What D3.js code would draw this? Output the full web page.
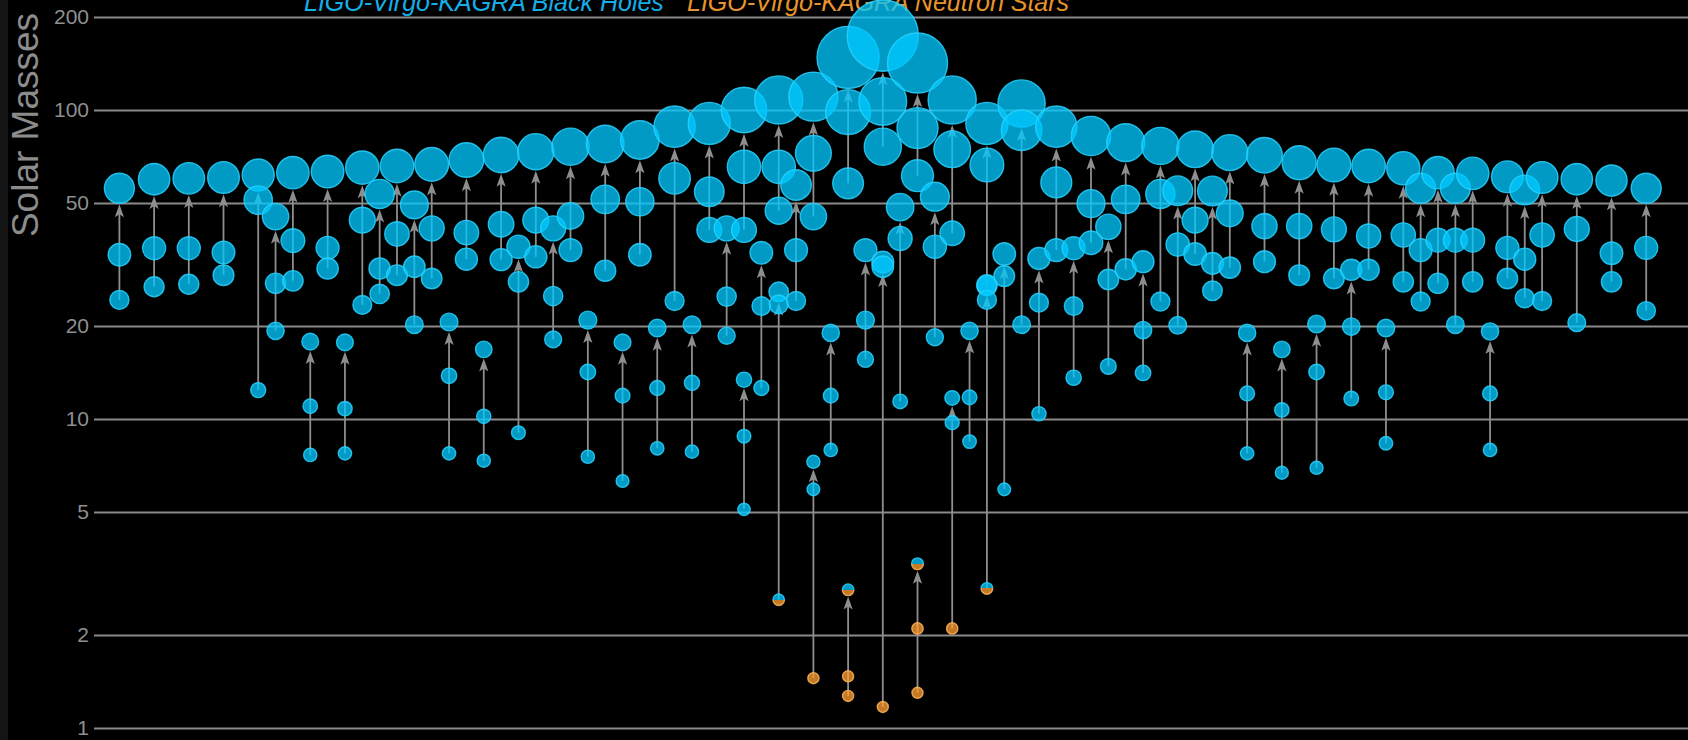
<!DOCTYPE html>
<html>
<head>
<meta charset="utf-8">
<script src="https://cdn.jsdelivr.net/npm/d3@7/dist/d3.min.js"></script>
<style>
  html, body { margin: 0; padding: 0; background: #000; }
  svg { display: block; }
</style>
</head>
<body>
<svg id="chart" width="1688" height="740"></svg>
<script>
// ---------- DATA ----------
// x slot of each merger event (evenly spaced columns)
const slots = [0,2,4,6,8,9,10,11,12,13,14,15,16,17,18,19,20,21,22,23,24,25,26,27,28,29,30,31,32,33,34,35,
  36,36,37,38,38,39,40,40,41,42,42,43,44,44,45,46,46,47,48,48,49,50,50,51,
  52,53,54,55,56,57,58,59,60,61,62,63,64,65,66,67,68,69,70,71,72,73,74,75,76,77,78,79,80,81,82,84,86,88];
// final (remnant) mass, solar masses
const finalMass = [55.8,59.7,60.1,60.5,61.6,45.2,62.7,17.8,63.2,17.7,65.1,53.5,65.9,49.3,66.7,20.6,68.9,16.8,71.5,36.1,
  73.3,41.4,76.1,20.9,77.6,17.7,80.0,19.7,88.3,20.2,90.5,41.4,100,13.4,34.5,107.8,25.8,57.2,110.5,7.27,
  19.0,148,2.8,35.2,174,32.2,48.5,142,3.4,52.4,107.8,11.7,19.3,90.5,27.2,34.2,105,33.1,88.3,35.7,
  82.4,41.9,78.4,32.3,76.5,54.8,74.6,54.7,72.8,19.0,71.4,16.8,67.5,20.3,66.4,30.4,65.9,19.7,64.8,55.8,
  62.7,55.8,62.4,19.2,60.8,55.1,60.5,59.7,59.1,55.8];
// heavier component mass
const mass1 = [34.0,35.7,35.7,34.6,51.1,27.5,37.8,11.0,35.8,10.8,44.0,30.7,39.7,31.1,41.4,13.8,40.1,10.2,42.7,27.8,
  44.0,25.0,45.4,14.2,51.4,11.9,50.5,12.6,60.1,13.1,54.4,24.9,65.5,8.8,23.2,65.5,23.5,35.2,72.4,5.92,
  11.9,98.5,1.47,20.9,106.6,31.1,38.4,87.4,2.1,36.1,74.6,9.73,11.75,66.4,24.3,29.0,86,23.8,58.3,23.2,
  49.8,28.3,51.4,19.4,53.5,36.7,44.0,31.9,46.3,12.1,42.1,10.7,42.1,14.2,41.1,19.9,39.1,12.2,39.4,35.2,
  37.9,37.9,37.9,12.1,35.8,32.9,39.4,41.2,34.4,35.8];
// lighter component mass
const mass2 = [24.3,26.8,27.3,29.2,12.4,19.3,28.0,7.65,30.7,7.74,23.4,25.4,29.2,20.2,28.5,7.74,32.9,7.33,32.8,9.03,
  33.5,18.1,35.2,7.55,30.2,6.3,34.0,8.04,24.1,7.84,40.9,18.6,40.9,5.1,12.6,47.2,2.6,24.1,45.2,1.45,
  7.94,57.9,1.27,15.6,76.1,1.17,11.4,61.3,1.3,18.4,39.9,2.1,8.45,27.0,2.83,5.92,20.2,10.4,35.2,13.6,
  37.2,14.8,30.5,14.1,24.0,20.1,34.2,26.0,30.9,7.74,32.3,6.7,29.2,6.95,28.5,11.65,30.4,8.35,27.8,24.0,
  27.5,20.2,27.8,7.94,28.5,24.6,24.1,20.5,27.8,22.4];
// objects that are not black holes (by event index): N = neutron star, G = uncertain (half/half)
const finalKind = {42: "G", 48: "G"};
const mass1Kind = {42: "N", 48: "N"};
const mass2Kind = {36: "G", 39: "N", 42: "N", 45: "N", 48: "N", 51: "N", 54: "G"};
const tickValues = [1, 2, 5, 10, 20, 50, 100, 200];
const legendLabels = ["LIGO-Virgo-KAGRA Black Holes", "LIGO-Virgo-KAGRA Neutron Stars"];
const axisTitle = "Solar Masses";

// ---------- DRAWING ----------
const W = 1688, H = 740;
const svg = d3.select("#chart");
const font = "'Helvetica Neue', Helvetica, Arial, 'Liberation Sans', sans-serif";

svg.append("rect").attr("width", W).attr("height", H).attr("fill", "#000");
svg.append("rect").attr("width", 8).attr("height", H).attr("fill", "#141414");

const defs = svg.append("defs");
const gFill = defs.append("linearGradient").attr("id", "gapFill")
  .attr("x1", 0).attr("y1", 0).attr("x2", 0).attr("y2", 1);
[[0, "rgb(0,200,255)"], [0.5, "rgb(0,200,255)"], [0.5, "rgb(255,158,50)"], [1, "rgb(255,158,50)"]]
  .forEach(([o, c]) => gFill.append("stop").attr("offset", o).attr("stop-color", c));
const gStroke = defs.append("linearGradient").attr("id", "gapStroke")
  .attr("x1", 0).attr("y1", 0).attr("x2", 0).attr("y2", 1);
[[0, "rgb(40,210,255)"], [0.5, "rgb(40,210,255)"], [0.5, "rgb(255,180,90)"], [1, "rgb(255,180,90)"]]
  .forEach(([o, c]) => gStroke.append("stop").attr("offset", o).attr("stop-color", c));

const x = d3.scaleLinear().domain([0, 88]).range([119.4, 1646.2]);
const y = d3.scaleLog().domain([1, 200]).range([728, 17]);
const r = d3.scaleLinear().domain([0, 100]).range([5.3, 22.7]);

// axis + gridlines
const axisX = 94;
const axis = d3.axisLeft(y)
  .tickValues(tickValues)
  .tickFormat(d3.format("d"))
  .tickSize(-(W - axisX))
  .tickPadding(5);
const gAxis = svg.append("g").attr("transform", `translate(${axisX},0)`).call(axis);
gAxis.select(".domain").remove();
gAxis.selectAll(".tick line").attr("stroke", "#8a8a8a").attr("stroke-width", 2);
gAxis.selectAll(".tick text").attr("fill", "#8f8f8f").attr("font-size", 21).attr("font-family", font);

// axis title
svg.append("text")
  .attr("transform", "translate(38,125) rotate(-90)")
  .attr("text-anchor", "middle")
  .attr("font-family", font).attr("font-size", 37)
  .attr("fill", "#8c8c8c")
  .text(axisTitle);

// legend (clipped at top like the reference)
svg.append("text").attr("x", 304).attr("y", 11)
  .attr("font-family", font).attr("font-size", 25).attr("font-style", "italic")
  .attr("fill", "#16aee8").text(legendLabels[0]);
svg.append("text").attr("x", 687).attr("y", 11)
  .attr("font-family", font).attr("font-size", 25).attr("font-style", "italic")
  .attr("fill", "#e8942c").text(legendLabels[1]);

const events = slots.map((s, i) => ({
  i, slot: s, mf: finalMass[i], m1: mass1[i], m2: mass2[i],
  kf: finalKind[i] || "B", k1: mass1Kind[i] || "B", k2: mass2Kind[i] || "B"
}));

// arrows
const lineColor = "#8e8e8e";
const gLines = svg.append("g");
events.forEach(e => {
  const cx = x(e.slot);
  const tip = y(e.mf) + r(e.mf) + 1;
  gLines.append("line")
    .attr("x1", cx).attr("x2", cx)
    .attr("y1", y(e.m2)).attr("y2", tip + 8)
    .attr("stroke", lineColor).attr("stroke-width", 1.8);
  gLines.append("path")
    .attr("d", `M${cx},${tip} L${cx - 4.6},${tip + 13} L${cx},${tip + 10} L${cx + 4.6},${tip + 13} Z`)
    .attr("fill", lineColor);
});

// circles
const fills = {B: "rgb(0,200,255)", N: "rgb(255,158,50)", G: "url(#gapFill)"};
const strokes = {B: "rgb(40,210,255)", N: "rgb(255,180,90)", G: "url(#gapStroke)"};
const circles = [];
events.forEach(e => {
  circles.push({slot: e.slot, m: e.mf, k: e.kf});
  circles.push({slot: e.slot, m: e.m1, k: e.k1});
  circles.push({slot: e.slot, m: e.m2, k: e.k2});
});
svg.append("g").selectAll("circle").data(circles).join("circle")
  .attr("cx", d => x(d.slot))
  .attr("cy", d => y(d.m))
  .attr("r", d => r(d.m))
  .attr("fill", d => fills[d.k])
  .attr("fill-opacity", 0.77)
  .attr("stroke", d => strokes[d.k])
  .attr("stroke-opacity", 0.85)
  .attr("stroke-width", 1.4);
</script>
</body>
</html>
